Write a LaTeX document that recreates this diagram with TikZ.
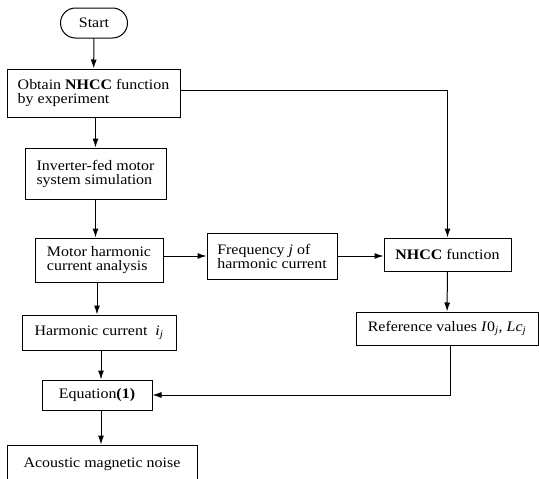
\documentclass[tikz,border=0pt]{standalone}
\usepackage{fontspec}
\setmainfont{Liberation Serif}[FakeStretch=1.1]
\usetikzlibrary{arrows.meta}

\begin{document}
\begin{tikzpicture}[x=1pt, y=-1pt, font=\fontsize{14.5}{14}\selectfont, line width=1pt]
        \tikzstyle{block}=[draw, rectangle, align=left, inner sep=4pt]
        \tikzstyle{terminal}=[draw, rectangle, rounded corners=15pt, inner sep=4pt]
        \tikzstyle{flow}=[-{Latex[length=9pt,width=6pt]}]

        \useasboundingbox (0,0) rectangle (539,479);

        \node[terminal, minimum width=67pt, minimum height=30pt] (B_start) at (94,23) {Start};
        \node[block, minimum width=173pt, minimum height=48pt] (B_obtain) at (93.5,93) {Obtain \textbf{NHCC} function\\by experiment};
        \node[block, minimum width=141pt, minimum height=51pt] (B_inverter) at (95.5,173.5) {Inverter-fed motor\\system simulation};
        \node[block, minimum width=128pt, minimum height=44pt] (B_motor) at (99,260) {Motor harmonic\\current analysis};
        \node[block, minimum width=154pt, minimum height=35pt] (B_harm) at (99,332.5) {Harmonic current \ \textit{i}\textsubscript{\textit{j}}};
        \node[block, minimum width=110pt, minimum height=30pt] (B_eqn) at (97,395) {Equation\textbf{(1)}};
        \node[block, minimum width=190pt, minimum height=38pt] (B_noise) at (102,464) {Acoustic magnetic noise};
        \node[block, minimum width=130pt, minimum height=46pt] (B_freq) at (272,256) {Frequency \textit{j} of\\harmonic current};
        \node[block, minimum width=127pt, minimum height=33pt] (B_nhcc) at (447.5,254.5) {\textbf{NHCC} function};
        \node[block, minimum width=182pt, minimum height=33pt] (B_ref) at (447,328.5) {Reference values \textit{I}0\textsubscript{\textit{j}}, \textit{Lc}\textsubscript{\textit{j}}};

        \draw[flow] (B_start) -- (B_obtain);
        \draw[flow] (B_obtain.south -| B_inverter) -- (B_inverter);
        \draw[flow] (B_inverter) -- (B_inverter |- B_motor.north);
        \draw[flow] (B_motor.south -| 97,0) -- (B_harm.north -| 97,0);
        \draw[flow] (B_harm.south -| 101,0) -- (B_eqn.north -| 101,0);
        \draw[flow] (B_eqn.south -| 101,0) -- (B_noise.north -| 101,0);
        \draw[flow] (B_motor.east |- B_freq) -- (B_freq.west);
        \draw[flow] (B_freq.east) -- (B_nhcc.west |- B_freq);
        \draw[flow] (B_obtain.east |- 0,90) -| (B_nhcc.north);
        \draw[flow] (B_nhcc) -- (B_ref);
        \draw[flow] (B_ref.south -| 450,0) |- (B_eqn.east);
    \end{tikzpicture}
\end{document}
